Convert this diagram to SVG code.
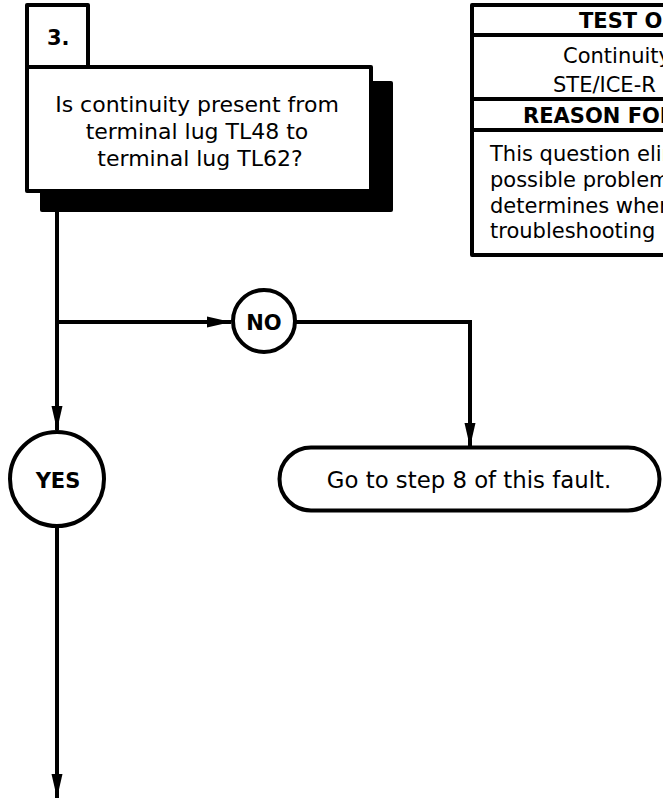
<svg xmlns="http://www.w3.org/2000/svg" width="663" height="805" viewBox="0 0 663 805">
  <style>
    .box { fill: #fff; stroke: #000; stroke-width: 4; stroke-linejoin: round; }
    .conn { fill: none; stroke: #000; stroke-width: 4; }
    .t { font-family: "DejaVu Sans", Verdana, sans-serif; font-size: 21px; fill: #000; }
    .q { font-size: 22px; }
    .g { font-size: 22.8px; }
    .b { font-family: "DejaVu Sans", Verdana, sans-serif; font-size: 21px; font-weight: bold; fill: #000; }
  </style>
  <defs>
    <marker id="arr" viewBox="0 0 24 12" markerWidth="24" markerHeight="12" refX="24" refY="6" orient="auto" markerUnits="userSpaceOnUse">
      <path d="M0,0.5 L24,6 L0,11.5 z" fill="#000"/>
    </marker>
  </defs>
  <rect width="663" height="805" fill="#fff"/>

  <g id="step3">
    <rect x="40" y="81" width="353" height="131" rx="2" fill="#000"/>
    <rect class="box" x="27" y="5" width="61" height="62"/>
    <rect class="box" x="27" y="67" width="344" height="124"/>
    <text class="b" x="47" y="45">3.</text>
    <text class="t q" x="197" y="112" text-anchor="middle">Is continuity present from</text>
    <text class="t q" x="197" y="139" text-anchor="middle">terminal lug TL48 to</text>
    <text class="t q" x="200" y="166" text-anchor="middle">terminal lug TL62?</text>
  </g>

  <g id="info-table">
    <rect class="box" x="472" y="5" width="260" height="250"/>
    <line x1="472" y1="35" x2="732" y2="35" stroke="#000" stroke-width="4"/>
    <line x1="472" y1="99" x2="732" y2="99" stroke="#000" stroke-width="4"/>
    <line x1="472" y1="130" x2="732" y2="130" stroke="#000" stroke-width="4"/>
    <text class="b" x="579" y="28">TEST OR</text>
    <text class="t" x="563" y="63">Continuity</text>
    <text class="t" x="553" y="92">STE/ICE-R</text>
    <text class="b" x="523" y="123">REASON FOR</text>
    <text class="t" x="490" y="161">This question eliminates</text>
    <text class="t" x="490" y="187">possible problems</text>
    <text class="t" x="490" y="213">determines where</text>
    <text class="t" x="490" y="238">troubleshooting</text>
  </g>

  <g id="no">
    <circle class="box" cx="264" cy="321" r="31"/>
    <text class="b" x="264" y="330" text-anchor="middle">NO</text>
  </g>

  <g id="yes">
    <circle class="box" cx="57" cy="479" r="47"/>
    <text class="b" x="58" y="488" text-anchor="middle">YES</text>
  </g>

  <g id="goto-step8">
    <rect class="box" x="279.5" y="447.5" width="380" height="63" rx="31.5"/>
    <text class="t g" x="469" y="488" text-anchor="middle">Go to step 8 of this fault.</text>
  </g>

  <g id="connectors">
    <path class="conn" d="M57,212 V430" marker-end="url(#arr)"/>
    <path class="conn" d="M57,322 H231" marker-end="url(#arr)"/>
    <path class="conn" d="M295,322 H470 V447" marker-end="url(#arr)"/>
    <path class="conn" d="M57,526 V798" marker-end="url(#arr)"/>
  </g>
</svg>
